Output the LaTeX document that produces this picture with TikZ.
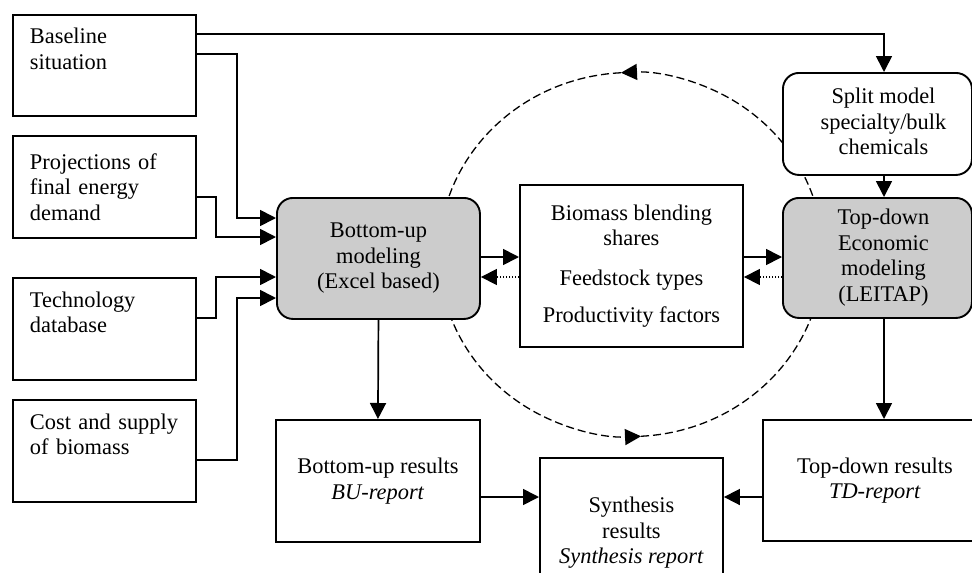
\documentclass[tikz,border=0pt]{standalone}
\usepackage{fontspec}
\setmainfont{Liberation Serif}
\usetikzlibrary{arrows.meta,calc}
\definecolor{boxgray}{RGB}{204,204,204}
\begin{document}
\begin{tikzpicture}[x=1pt,y=1pt,
  every node/.style={font=\fontsize{22.4pt}{25.5pt}\selectfont},
  inbox/.style={draw, line width=1.9pt, rectangle, anchor=north west, fill=white,
     minimum width=183pt, minimum height=102pt, inner xsep=17pt,
     text width=149pt, align=left},
  plainbox/.style={draw, line width=1.9pt, rectangle, anchor=north west, fill=white,
     align=center, inner sep=0pt},
  modelbox/.style={plainbox, rounded corners=16pt, fill=boxgray},
  splitbox/.style={plainbox, rounded corners=16pt},
  arr/.style={line width=1.7pt, -{Triangle[length=16pt,width=16pt]}},
  dotarr/.style={line width=1.3pt, dash pattern=on 1.4pt off 1.6pt, -{Triangle[length=16pt,width=16pt]}},
  dashline/.style={line width=1.3pt, dash pattern=on 8pt off 4pt},
  dasharr/.style={dashline, -{Triangle[length=16pt,width=16pt]}}
]
\useasboundingbox (0,0) rectangle (972,-573);
\fill[white] (0,0) rectangle (972,-573);
% dashed cycle
\coordinate (c) at (631,-254.5);
\draw[dasharr] ($(c)+(192,0)$) arc[start angle=0, end angle=93, x radius=192pt, y radius=182pt];
\draw[dashline] (c) ++(93:192pt and 182pt) arc[start angle=93, end angle=180, x radius=192pt, y radius=182pt];
\draw[dasharr] ($(c)+(-192,0)$) arc[start angle=180, end angle=273, x radius=192pt, y radius=182pt];
\draw[dashline] (c) ++(273:192pt and 182pt) arc[start angle=273, end angle=360, x radius=192pt, y radius=182pt];
% input boxes
\node[inbox, minimum height=101pt] (base) at (12,-14) {Baseline\\situation\\\strut};
\node[inbox] (proj) at (12,-135) {Projections of\\final energy\\demand};
\node[inbox] (tech) at (12,-277) {Technology\\database\\\strut};
\node[inbox] (cost) at (12,-399) {Cost and supply\\of biomass\\\strut};
% models
\node[modelbox, minimum width=203pt, minimum height=121pt] (bu) at (276,-197) {Bottom-up\\modeling\\(Excel based)};
\node[plainbox, minimum width=223pt, minimum height=162pt] (mid) at (519,-184)
  {Biomass blending\\shares\\[14pt]Feedstock types\\[12pt]Productivity factors};
\node[splitbox, minimum width=189pt, minimum height=102pt] (split) at (782,-72)
  {\hspace*{12pt}\begin{tabular}{@{}c@{}}Split model\\specialty/bulk\\chemicals\end{tabular}};
\node[modelbox, minimum width=189pt, minimum height=120pt] (td) at (782,-197)
  {\hspace*{12pt}\begin{tabular}{@{}c@{}}Top-down\\Economic\\modeling\\(LEITAP)\end{tabular}};
% results
\node[plainbox, minimum width=204pt, minimum height=122pt] (bur) at (275,-419) {Bottom-up results\\\textit{BU-report}};
\node[plainbox, minimum width=224pt, minimum height=121pt] (tdr) at (762,-419) {Top-down results\\\textit{TD-report}};
\node[plainbox, minimum width=183pt, minimum height=150pt] (syn) at (539,-457) {Synthesis\\results\\\textit{Synthesis report}};
% connectors from inputs
\coordinate (b1) at ($(bu.north west)+(0,-21)$);
\coordinate (b2) at ($(bu.north west)+(0,-40)$);
\coordinate (b3) at ($(bu.north west)+(0,-80)$);
\coordinate (b4) at ($(bu.north west)+(0,-101)$);
\draw[arr] ($(base.north east)+(0,-40)$) -- ++(40,0) |- (b1);
\draw[arr] ($(proj.north east)+(0,-62)$) -- ++(19,0) |- (b2);
\draw[arr] ($(tech.north east)+(0,-41)$) -- ++(19,0) |- (b3);
\draw[arr] ($(cost.north east)+(0,-61)$) -- ++(40,0) |- (b4);
% baseline to split
\coordinate (spin) at ($(split.north west)+(102,0)$);
\draw[arr] ($(base.north east)+(0,-20)$) -| (spin);
\draw[arr] ($(split.south west)+(102,0)$) -- ($(td.north west)+(102,0)$);
\draw[arr] ($(td.south west)+(102,0)$) -- ($(tdr.north west)+(122,0)$);
\draw[arr] (bu.south) -- (bur.north);
% bu <-> mid <-> td
\draw[arr] ($(bu.north east)+(0,-60)$) coordinate (t1) -- (t1 -| mid.west);
\draw[dotarr] ($(mid.north west)+(0,-93)$) coordinate (t2) -- (t2 -| bu.east);
\draw[arr] ($(mid.north east)+(0,-73)$) coordinate (t3) -- (t3 -| td.west);
\draw[dotarr] ($(td.north west)+(0,-80)$) coordinate (t4) -- (t4 -| mid.east);
% results to synthesis
\draw[arr] ($(bur.north east)+(0,-78)$) coordinate (t5) -- (t5 -| syn.west);
\draw[arr] ($(tdr.north west)+(0,-78)$) coordinate (t6) -- (t6 -| syn.east);
\end{tikzpicture}
\end{document}
